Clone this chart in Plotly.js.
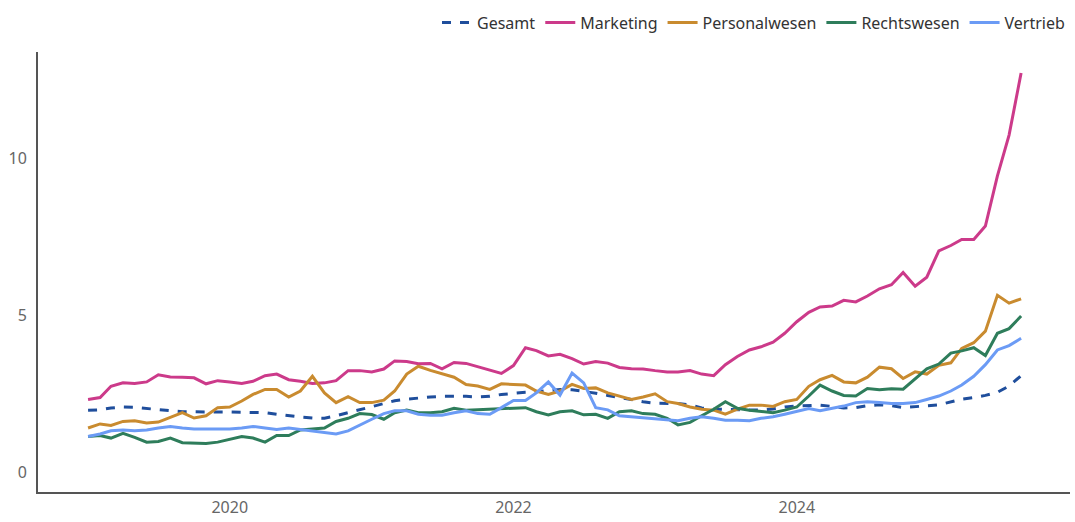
<!DOCTYPE html>
<html>
<head>
<meta charset="utf-8">
<script src="https://cdn.plot.ly/plotly-3.0.1.min.js"></script>
<style>
  html, body { margin: 0; padding: 0; background: #ffffff; }
  #chart { width: 1075px; height: 522px; }
</style>
</head>
<body>
<div id="chart"></div>
<script>
// Monthly series, Jan 2019 to Aug 2025
const startYear = 2019;
const nMonths = 80;
const months = [];
for (let i = 0; i < nMonths; i++) {
  const y = startYear + Math.floor(i / 12);
  const m = (i % 12) + 1;
  months.push(y + "-" + String(m).padStart(2, "0") + "-01");
}

const seriesNames = ["Gesamt", "Marketing", "Personalwesen", "Rechtswesen", "Vertrieb"];

const gesamt = [
  1.98, 1.99, 2.05, 2.08, 2.07, 2.03, 1.98, 1.96, 1.93, 1.92,
  1.92, 1.92, 1.92, 1.92, 1.92, 1.90, 1.85, 1.80, 1.76, 1.73,
  1.72, 1.80, 1.90, 2.00, 2.10, 2.20, 2.28, 2.33, 2.37, 2.40,
  2.42, 2.43, 2.42, 2.40, 2.42, 2.48, 2.52, 2.55, 2.57, 2.60,
  2.64, 2.63, 2.58, 2.52, 2.45, 2.38, 2.33, 2.25, 2.20, 2.19,
  2.19, 2.15, 2.05, 2.01, 2.00, 1.98, 1.98, 1.98, 2.02, 2.08,
  2.11, 2.13, 2.14, 2.10, 2.05, 2.06, 2.12, 2.15, 2.12, 2.06,
  2.08, 2.12, 2.15, 2.25, 2.33, 2.38, 2.45, 2.55, 2.75, 3.08
];

const marketing = [
  2.32, 2.38, 2.74, 2.85, 2.83, 2.88, 3.11, 3.04, 3.03, 3.01,
  2.82, 2.92, 2.88, 2.83, 2.90, 3.08, 3.13, 2.95, 2.90, 2.83,
  2.85, 2.92, 3.24, 3.24, 3.20, 3.29, 3.55, 3.53, 3.46, 3.47,
  3.30, 3.50, 3.47, 3.36, 3.26, 3.15, 3.40, 3.97, 3.88, 3.71,
  3.76, 3.62, 3.45, 3.53, 3.48, 3.34, 3.30, 3.29, 3.24, 3.20,
  3.20, 3.24, 3.13, 3.08, 3.43, 3.69, 3.90, 4.00, 4.15, 4.43,
  4.80, 5.10, 5.27, 5.30, 5.48, 5.43, 5.62, 5.85, 5.98, 6.37,
  5.93, 6.22, 7.06, 7.23, 7.42, 7.42, 7.85, 9.45, 10.75, 12.73
];

const personalwesen = [
  1.41, 1.54, 1.49, 1.62, 1.64, 1.57, 1.60, 1.75, 1.90, 1.73,
  1.80, 2.06, 2.08, 2.27, 2.48, 2.64, 2.64, 2.40, 2.59, 3.06,
  2.53, 2.22, 2.41, 2.22, 2.22, 2.30, 2.59, 3.13, 3.38, 3.25,
  3.14, 3.03, 2.80, 2.75, 2.64, 2.82, 2.80, 2.78, 2.59, 2.48,
  2.59, 2.80, 2.67, 2.69, 2.53, 2.43, 2.32, 2.40, 2.50, 2.25,
  2.19, 2.08, 2.01, 1.98, 1.85, 2.01, 2.14, 2.14, 2.10, 2.25,
  2.32, 2.74, 2.95, 3.09, 2.88, 2.85, 3.03, 3.35, 3.30, 2.99,
  3.20, 3.13, 3.41, 3.49, 3.95, 4.13, 4.50, 5.64, 5.39, 5.53
];

const rechtswesen = [
  1.14, 1.17, 1.09, 1.24, 1.11, 0.96, 0.98, 1.09, 0.94, 0.92,
  0.92, 0.96, 1.06, 1.14, 1.09, 0.96, 1.17, 1.17, 1.35, 1.38,
  1.41, 1.62, 1.72, 1.87, 1.84, 1.69, 1.90, 1.98, 1.90, 1.90,
  1.93, 2.04, 1.98, 1.99, 2.01, 2.01, 2.03, 2.06, 1.93, 1.83,
  1.93, 1.96, 1.83, 1.85, 1.72, 1.93, 1.96, 1.87, 1.85, 1.72,
  1.51, 1.59, 1.80, 2.01, 2.25, 2.04, 1.98, 1.93, 1.90, 1.98,
  2.08, 2.43, 2.78, 2.59, 2.45, 2.43, 2.67, 2.63, 2.66, 2.65,
  2.99, 3.30, 3.45, 3.80, 3.87, 3.97, 3.72, 4.43, 4.58, 4.98
];

const vertrieb = [
  1.14, 1.22, 1.32, 1.35, 1.32, 1.35, 1.41, 1.46, 1.41, 1.38,
  1.38, 1.38, 1.38, 1.41, 1.46, 1.41, 1.36, 1.41, 1.36, 1.32,
  1.27, 1.22, 1.32, 1.51, 1.69, 1.87, 1.96, 1.96, 1.85, 1.82,
  1.82, 1.90, 1.96, 1.87, 1.85, 2.06, 2.29, 2.29, 2.53, 2.88,
  2.46, 3.16, 2.85, 2.06, 1.99, 1.80, 1.77, 1.75, 1.72, 1.69,
  1.64, 1.72, 1.77, 1.72, 1.66, 1.66, 1.64, 1.72, 1.77, 1.85,
  1.93, 2.03, 1.96, 2.03, 2.11, 2.22, 2.25, 2.22, 2.19, 2.19,
  2.22, 2.32, 2.43, 2.59, 2.78, 3.06, 3.43, 3.90, 4.04, 4.27
];

const yTickVals = [0, 5, 10];
const yTickText = ["0", "5", "10"];
const xTickVals = ["2020-01-01", "2022-01-01", "2024-01-01"];
const xTickText = ["2020", "2022", "2024"];

const colors = ["#1f4e9c", "#cc3a8a", "#c98b2f", "#2e7d5b", "#6b9bf5"];
const dashes = ["dash", "solid", "solid", "solid", "solid"];
const values = [gesamt, marketing, personalwesen, rechtswesen, vertrieb];

const traces = seriesNames.map((name, k) => ({
  type: "scatter",
  mode: "lines",
  name: name,
  x: months,
  y: values[k],
  line: { color: colors[k], width: 3, dash: dashes[k] },
  hoverinfo: "x+y+name"
}));

const layout = {
  width: 1075,
  height: 522,
  margin: { l: 38, r: 5, t: 44, b: 30 },
  paper_bgcolor: "#ffffff",
  plot_bgcolor: "#ffffff",
  font: { family: "Noto Sans, Open Sans, sans-serif", size: 16, color: "#555555" },
  showlegend: true,
  legend: {
    orientation: "h",
    x: 1, xanchor: "right",
    y: 1.067, yanchor: "middle",
    font: { family: "Noto Sans, sans-serif", size: 16, color: "#333333" },
    bgcolor: "rgba(0,0,0,0)"
  },
  xaxis: {
    type: "date",
    range: ["2018-08-25", "2025-12-05"],
    tickvals: xTickVals,
    ticktext: xTickText,
    showgrid: false,
    zeroline: false,
    showline: true,
    linecolor: "#555555",
    linewidth: 2,
    ticks: "",
    tickfont: { size: 16, color: "#666666" }
  },
  yaxis: {
    range: [-0.63, 13.4],
    tickvals: yTickVals,
    ticktext: yTickText,
    showgrid: false,
    zeroline: false,
    showline: true,
    linecolor: "#555555",
    linewidth: 2,
    ticks: "",
    ticklabelstandoff: 6,
    tickfont: { size: 16, color: "#666666" }
  }
};

Plotly.newPlot("chart", traces, layout, { displayModeBar: false, staticPlot: true });
</script>
</body>
</html>
